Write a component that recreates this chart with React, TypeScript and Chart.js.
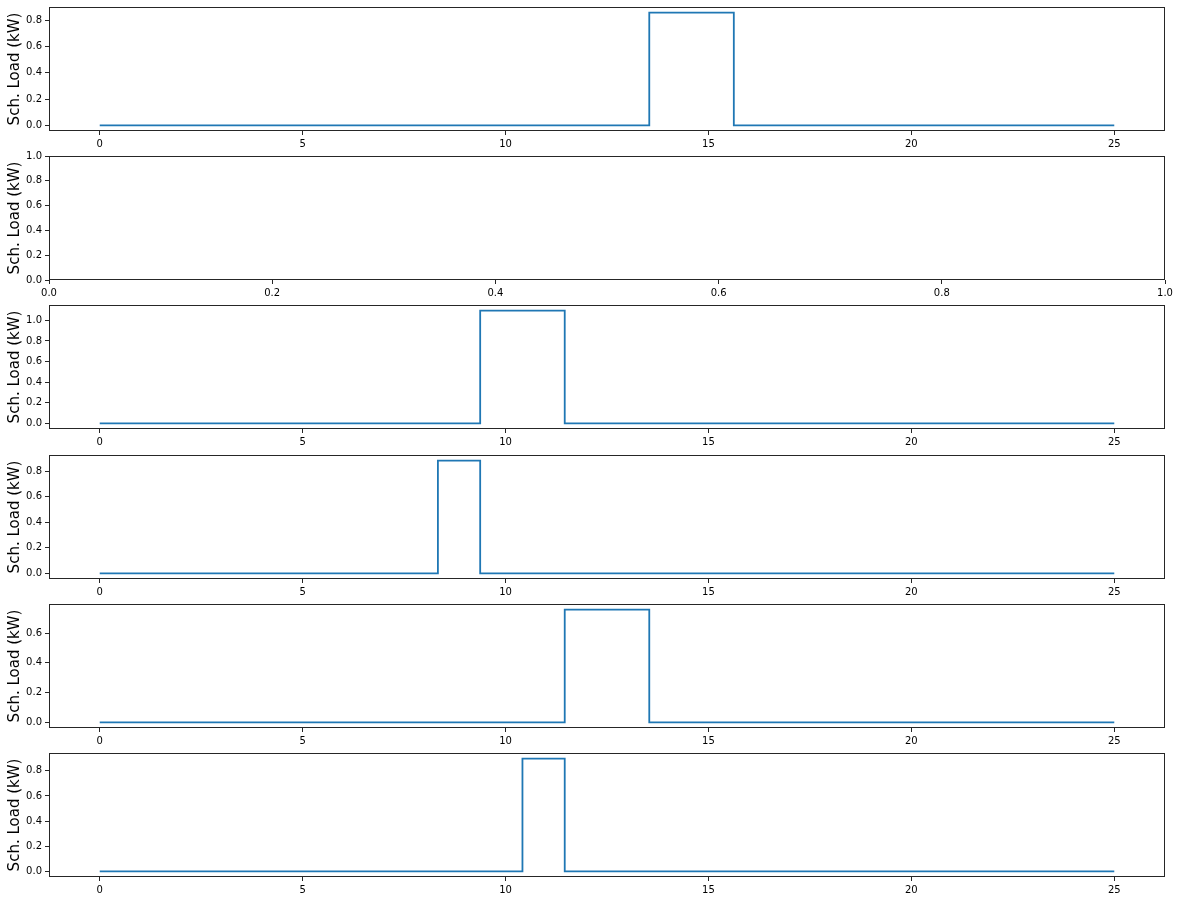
import React, { useEffect, useRef } from "react";
import { Chart, registerables } from "chart.js";

Chart.register(...registerables);

// x positions (hours) of the 25 samples
const hours = [
  0, 1.0417, 2.0833, 3.125, 4.1667, 5.2083, 6.25, 7.2917, 8.3333, 9.375,
  10.4167, 11.4583, 12.5, 13.5417, 14.5833, 15.625, 16.6667, 17.7083, 18.75,
  19.7917, 20.8333, 21.875, 22.9167, 23.9583, 25,
];

// scheduled load per appliance (kW), step values
const load1 = [0, 0, 0, 0, 0, 0, 0, 0, 0, 0, 0, 0, 0, 0.857, 0.857, 0, 0, 0, 0, 0, 0, 0, 0, 0, 0];
const load3 = [0, 0, 0, 0, 0, 0, 0, 0, 0, 1.094, 1.094, 0, 0, 0, 0, 0, 0, 0, 0, 0, 0, 0, 0, 0, 0];
const load4 = [0, 0, 0, 0, 0, 0, 0, 0, 0.883, 0, 0, 0, 0, 0, 0, 0, 0, 0, 0, 0, 0, 0, 0, 0, 0];
const load5 = [0, 0, 0, 0, 0, 0, 0, 0, 0, 0, 0, 0.758, 0.758, 0, 0, 0, 0, 0, 0, 0, 0, 0, 0, 0, 0];
const load6 = [0, 0, 0, 0, 0, 0, 0, 0, 0, 0, 0.897, 0, 0, 0, 0, 0, 0, 0, 0, 0, 0, 0, 0, 0, 0];

const xTicksHours = [0, 5, 10, 15, 20, 25];
const xTicksUnit = [0, 0.2, 0.4, 0.6, 0.8, 1.0];
const yTicks1 = [0, 0.2, 0.4, 0.6, 0.8];
const yTicks2 = [0, 0.2, 0.4, 0.6, 0.8, 1.0];
const yTicks3 = [0, 0.2, 0.4, 0.6, 0.8, 1.0];
const yTicks4 = [0, 0.2, 0.4, 0.6, 0.8];
const yTicks5 = [0, 0.2, 0.4, 0.6];
const yTicks6 = [0, 0.2, 0.4, 0.6, 0.8];

const yLabel = "Sch. Load (kW)";

type Panel = {
  values: number[] | null;
  yTicks: number[];
  xTicks: number[];
  xDecimals: number;
};

const panels: Panel[] = [
  { values: load1, yTicks: yTicks1, xTicks: xTicksHours, xDecimals: 0 },
  { values: null, yTicks: yTicks2, xTicks: xTicksUnit, xDecimals: 1 },
  { values: load3, yTicks: yTicks3, xTicks: xTicksHours, xDecimals: 0 },
  { values: load4, yTicks: yTicks4, xTicks: xTicksHours, xDecimals: 0 },
  { values: load5, yTicks: yTicks5, xTicks: xTicksHours, xDecimals: 0 },
  { values: load6, yTicks: yTicks6, xTicks: xTicksHours, xDecimals: 0 },
];

const BOX_TOPS = [7, 156, 305, 455, 604, 753];
const BOX_H = 124;
const PAD_TOP = 14;
const X_AXIS_H = 24;
const CANVAS_H = PAD_TOP + BOX_H + X_AXIS_H;
const W = 1180;
const FONT = "DejaVu Sans";
const LINE_DARK = "#262626";

const framePlugin = {
  id: "frame",
  afterDraw(chart: any) {
    const { ctx, chartArea } = chart;
    const { left, top, right, bottom } = chartArea;
    ctx.save();
    ctx.strokeStyle = LINE_DARK;
    ctx.lineWidth = 1;
    ctx.strokeRect(left + 0.5, top + 0.5, right - left - 1, bottom - top - 1);
    ctx.restore();
  },
};

function limits(values: number[] | null, xs: number[]) {
  if (!values) return { xMin: 0, xMax: 1, yMin: 0, yMax: 1 };
  const xLo = Math.min(...xs);
  const xHi = Math.max(...xs);
  const yLo = Math.min(...values);
  const yHi = Math.max(...values);
  const dx = (xHi - xLo) * 0.05;
  const dy = (yHi - yLo) * 0.05;
  return { xMin: xLo - dx, xMax: xHi + dx, yMin: yLo - dy, yMax: yHi + dy };
}

export default function App() {
  const refs = useRef<(HTMLCanvasElement | null)[]>([]);

  useEffect(() => {
    const charts: Chart[] = [];
    panels.forEach((p, i) => {
      const canvas = refs.current[i];
      if (!canvas) return;
      const lim = limits(p.values, hours);
      const datasets = p.values
        ? [
            {
              data: p.values.map((v, k) => ({ x: hours[k], y: v })),
              borderColor: "#1f77b4",
              borderWidth: 1.8,
              pointRadius: 0,
              stepped: "before" as const,
              fill: false,
            },
          ]
        : [];
      const chart = new Chart(canvas, {
        type: "line",
        data: { datasets },
        options: {
          animation: false,
          responsive: false,
          devicePixelRatio: 1,
          layout: { padding: { top: PAD_TOP, right: 15, left: 0, bottom: 0 } },
          plugins: { legend: { display: false }, tooltip: { enabled: false } },
          scales: {
            x: {
              type: "linear",
              min: lim.xMin,
              max: lim.xMax,
              afterBuildTicks: (scale: any) => {
                scale.ticks = p.xTicks.map((v) => ({ value: v }));
              },
              afterFit: (scale: any) => {
                scale.height = X_AXIS_H;
              },
              grid: {
                display: true,
                drawOnChartArea: false,
                drawTicks: true,
                tickLength: 4,
                color: LINE_DARK,
              },
              border: { display: false },
              ticks: {
                autoSkip: false,
                maxRotation: 0,
                padding: 3,
                color: "#000",
                font: { family: FONT, size: 10 },
                callback: (v: any) => Number(v).toFixed(p.xDecimals),
              },
            },
            y: {
              type: "linear",
              min: lim.yMin,
              max: lim.yMax,
              afterBuildTicks: (scale: any) => {
                scale.ticks = p.yTicks.map((v) => ({ value: v }));
              },
              afterFit: (scale: any) => {
                scale.width = 49;
              },
              grid: {
                display: true,
                drawOnChartArea: false,
                drawTicks: true,
                tickLength: 4,
                color: LINE_DARK,
              },
              border: { display: false },
              ticks: {
                autoSkip: false,
                padding: 3,
                color: "#000",
                font: { family: FONT, size: 10 },
                callback: (v: any) => Number(v).toFixed(1),
              },
              title: {
                display: true,
                text: yLabel,
                color: "#000",
                font: { family: FONT, size: 15 },
                padding: { top: 6, bottom: 0 },
              },
            },
          },
        },
        plugins: [framePlugin],
      } as any);
      charts.push(chart);
    });
    return () => charts.forEach((c) => c.destroy());
  }, []);

  return (
    <div
      style={{
        position: "absolute",
        left: 0,
        top: 0,
        width: W,
        height: 901,
        background: "#fff",
        overflow: "hidden",
      }}
    >
      {panels.map((_, i) => (
        <canvas
          key={i}
          ref={(el) => {
            refs.current[i] = el;
          }}
          width={W}
          height={CANVAS_H}
          style={{
            position: "absolute",
            left: 0,
            top: BOX_TOPS[i] - PAD_TOP,
            width: W,
            height: CANVAS_H,
            display: "block",
          }}
        />
      ))}
    </div>
  );
}
